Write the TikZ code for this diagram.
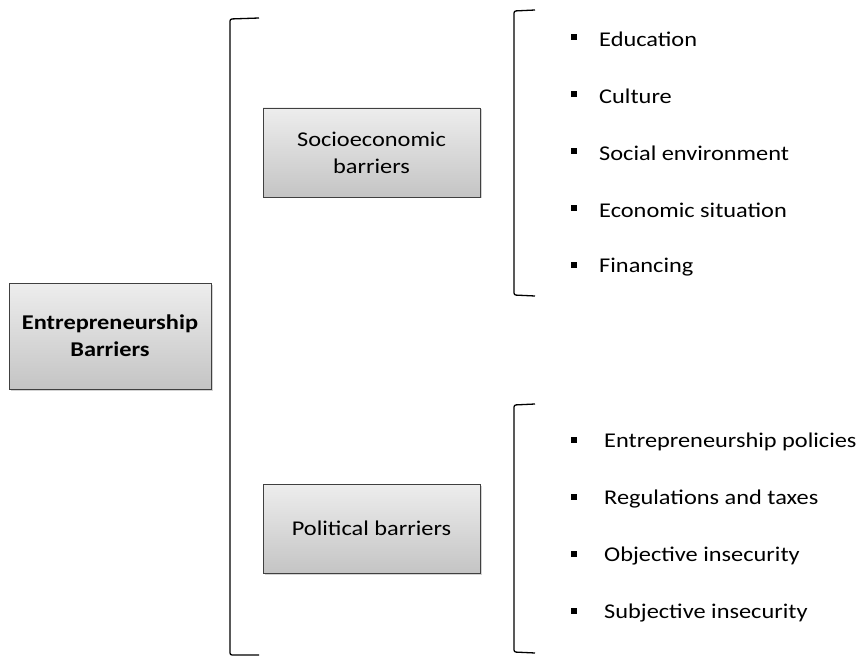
\documentclass[tikz,border=0pt]{standalone}
\usepackage{fontspec}
\setmainfont[FakeStretch=1.16]{Carlito}
\usetikzlibrary{shadows}
\begin{document}
\begin{tikzpicture}[x=1pt,y=-1pt,
  barrierbox/.style={draw=black!75, line width=0.8pt, top color=black!7, bottom color=black!23,
    minimum width=#1, inner sep=0pt, align=center, font=\fontsize{21}{27}\selectfont,
    drop shadow={shadow xshift=1.5pt, shadow yshift=-1.5pt, opacity=0.35, fill=black!50}},
  brace/.style={line width=1.3pt, rounded corners=2pt},
  itemtext/.style={anchor=west, inner sep=0pt, font=\fontsize{21}{27}\selectfont},
  bulletmark/.style={fill=black, minimum size=5.5pt, inner sep=0pt}
]
\useasboundingbox (0,0) rectangle (863,658);

% main category boxes
\node[barrierbox=202pt, minimum height=106pt, font=\bfseries\fontsize{21}{27}\selectfont] (main) at (110,336)
  {Entrepreneurship\\Barriers};
\node[barrierbox=217pt, minimum height=89pt] (socio) at (371.5,152.5) {Socioeconomic\\barriers};
\node[barrierbox=217pt, minimum height=89pt] (pol) at (371.5,528.5) {Political barriers};

% large bracket grouping both categories
\coordinate (bigTop) at (259,18);
\coordinate (bigBot) at (259,655);
\draw[brace] (bigTop) -- (230,19) -- (230,655) -- (bigBot);

% bracket of socioeconomic factors
\coordinate (sTop) at (535,10);
\coordinate (sBot) at (535,296);
\draw[brace] (sTop) -- (514,11) -- (514,295) -- (sBot);

% bracket of political factors
\coordinate (pTop) at (535,404);
\coordinate (pBot) at (535,653);
\draw[brace] (pTop) -- (514,405) -- (514,652) -- (pBot);

% socioeconomic factors
\foreach \name/\txt/\yy in {edu/Education/39, cul/Culture/96, soc/Social environment/153,
  eco/Economic situation/210, fin/Financing/267}{
  \node[bulletmark] (b\name) at (574,\yy-2) {};
  \node[itemtext] (\name) at (599,\yy) {\txt};
}

% political factors
\foreach \name/\txt/\yy in {ent/Entrepreneurship policies/442, reg/Regulations and taxes/499,
  obj/Objective insecurity/556, sub/Subjective insecurity/613}{
  \node[bulletmark] (b\name) at (574,\yy-2) {};
  \node[itemtext] (\name) at (604,\yy) {\txt};
}
\end{tikzpicture}
\end{document}
